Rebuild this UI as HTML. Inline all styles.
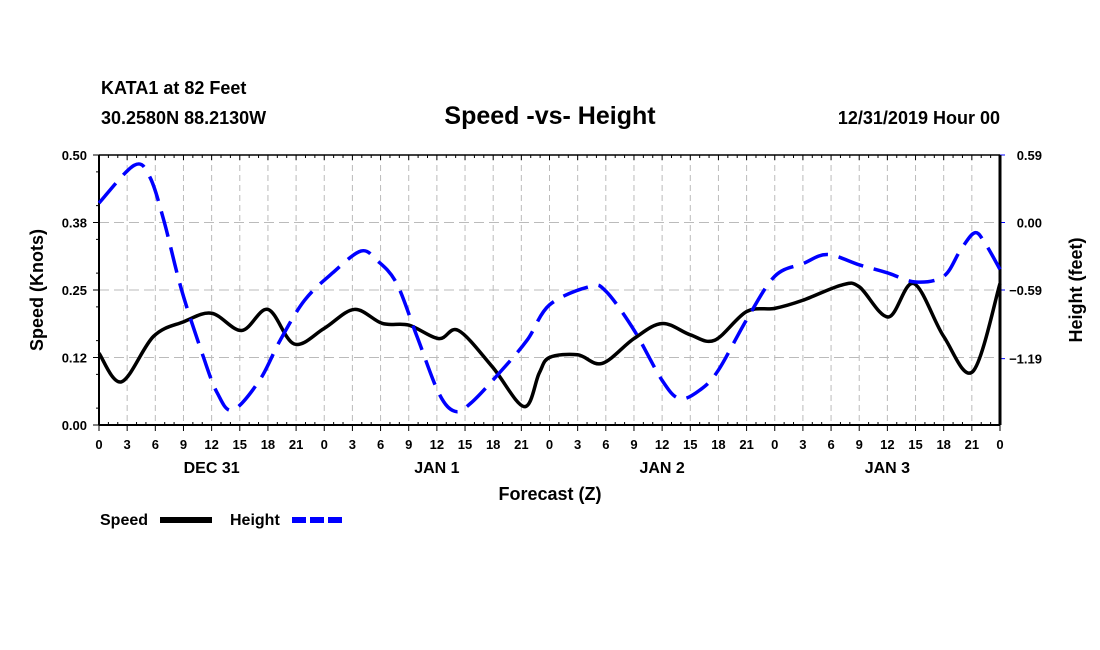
<!DOCTYPE html>
<html><head><meta charset="utf-8"><style>
body{margin:0;background:#fff;}
svg{display:block;font-family:"Liberation Sans",Arial,sans-serif;font-weight:bold;}
</style></head><body>
<svg id="c" width="1100" height="650">
<text x="101" y="94" font-size="18">KATA1 at 82 Feet</text>
<text x="101" y="124" font-size="18">30.2580N 88.2130W</text>
<text x="550" y="124" font-size="25" text-anchor="middle">Speed -vs- Height</text>
<text x="1000" y="124" font-size="18" text-anchor="end">12/31/2019 Hour 00</text>
<g id="grid"></g><g id="axes"></g><g id="series"></g>
<text x="550" y="500" font-size="18" text-anchor="middle">Forecast (Z)</text>
<text transform="translate(43,290) rotate(-90)" font-size="18" text-anchor="middle">Speed (Knots)</text>
<text transform="translate(1082,290) rotate(-90)" font-size="18" text-anchor="middle">Height (feet)</text>
<g>
<text x="100" y="525" font-size="16">Speed</text>
<line x1="160" y1="520" x2="212" y2="520" stroke="#000" stroke-width="6"/>
<text x="230" y="525" font-size="16">Height</text>
<line x1="292" y1="520" x2="342" y2="520" stroke="#00f" stroke-width="6" stroke-dasharray="14,4"/>
</g>
</svg>
<script>
const speedHours=[0,2.4,5.8,9,12,15.2,18,20.8,24,27.2,30.2,33,36.2,38.3,41.9,45.3,46.9,48,51,53.6,57,60,63,65.6,69,72,75,79.1,81,84.1,86.8,90,93.1,96];
const speedVals=[0.133,0.080,0.164,0.191,0.207,0.175,0.214,0.150,0.179,0.214,0.188,0.185,0.160,0.175,0.108,0.034,0.096,0.125,0.130,0.114,0.160,0.188,0.167,0.157,0.210,0.216,0.231,0.259,0.256,0.200,0.262,0.164,0.099,0.262];
const heightHours=[0,3.75,5.4,6.9,8.8,11.1,12.6,14.25,17.1,19.3,21.9,24.9,27.9,29.6,31.7,33.9,36.2,37.9,39.6,42.6,45.6,48,52.3,54,57,60,61.9,64.1,66,69,72,75,77.6,81,84,87,90,91.8,93.3,94.4,96];
const heightVals=[0.17,0.50,0.40,0.02,-0.59,-1.17,-1.49,-1.64,-1.38,-1.03,-0.68,-0.44,-0.25,-0.33,-0.53,-1.00,-1.49,-1.65,-1.58,-1.32,-1.03,-0.72,-0.56,-0.60,-0.94,-1.38,-1.54,-1.46,-1.29,-0.85,-0.47,-0.36,-0.28,-0.37,-0.44,-0.52,-0.47,-0.24,-0.09,-0.18,-0.41];
const leftTicks=["0.00","0.12","0.25","0.38","0.50"];
const rightTicks=["0.59","0.00","\u22120.59","\u22121.19"];
const rightTickVals=[0.59,0,-0.59,-1.19];
const dayLabels=["DEC 31","JAN 1","JAN 2","JAN 3"];

const L=99,R=1000,T=155,B=425,NS="http://www.w3.org/2000/svg";
const xs=h=>L+(R-L)*h/96;
const ysL=v=>B-(B-T)*v/0.5;
const ysR=v=>222.5-v*(67.5/0.59);
function mk(tag,at,par){const e=document.createElementNS(NS,tag);for(const k in at)e.setAttribute(k,at[k]);par.appendChild(e);return e;}
const grid=document.getElementById('grid'),axes=document.getElementById('axes'),ser=document.getElementById('series');
for(let h=3;h<96;h+=3){const g=mk('line',{x1:xs(h),x2:xs(h),y1:T,y2:B,stroke:'#bbb','stroke-dasharray':'6,4'},grid);

}
leftTicks.forEach((t,i)=>{const v=i*0.125,y=ysL(v);
if(i>0&&i<4){const g=mk('line',{x1:L,x2:R,y1:y,y2:y,stroke:'#bbb','stroke-dasharray':'10,5'},grid);

}
mk('line',{x1:L-6,x2:L,y1:y,y2:y,stroke:'#000'},axes);
const tx=mk('text',{x:L-12,y:y+5,'font-size':13,'text-anchor':'end'},axes);tx.textContent=t;

});
for(let i=0;i<8;i++){const y=ysL(i*0.0625+0.03125);mk('line',{x1:L-3,x2:L,y1:y,y2:y,stroke:'#000'},axes);}
rightTicks.forEach((t,i)=>{const y=ysR(rightTickVals[i]);mk('line',{x1:R,x2:R+5,y1:y,y2:y,stroke:'#00f'},axes);
const tx=mk('text',{x:1042,y:y+5,'font-size':13,'text-anchor':'end'},axes);tx.textContent=t;

});
for(let h=0;h<=96;h+=3){const x=xs(h);mk('line',{x1:x,x2:x,y1:B,y2:B+6,stroke:'#000'},axes);mk('line',{x1:x,x2:x,y1:T,y2:T+5,stroke:'#000'},axes);
const tx=mk('text',{x:x,y:449,'font-size':13,'text-anchor':'middle'},axes);tx.textContent=String(h%24);

}
for(let h=1;h<96;h++){if(h%3){const x=xs(h);mk('line',{x1:x,x2:x,y1:T,y2:T+3,stroke:'#000'},axes);mk('line',{x1:x,x2:x,y1:B-3,y2:B,stroke:'#000'},axes);}}
dayLabels.forEach((d,i)=>{const tx=mk('text',{x:xs(12+24*i),y:473,'font-size':16,'text-anchor':'middle'},axes);tx.textContent=d;

});
mk('line',{x1:L,x2:R,y1:T,y2:T,stroke:'#000','stroke-width':1.5},axes);
mk('line',{x1:L,x2:R,y1:B,y2:B,stroke:'#000','stroke-width':2},axes);
mk('line',{x1:L,x2:L,y1:T,y2:B,stroke:'#000','stroke-width':2},axes);
mk('line',{x1:R,x2:R,y1:T,y2:B,stroke:'#000','stroke-width':3},axes);
function path(pts){let d=`M${pts[0][0]},${pts[0][1]}`;for(let i=0;i<pts.length-1;i++){const p0=pts[Math.max(0,i-1)],p1=pts[i],p2=pts[i+1],p3=pts[Math.min(pts.length-1,i+2)];
d+=`C${p1[0]+(p2[0]-p0[0])/6},${p1[1]+(p2[1]-p0[1])/6} ${p2[0]-(p3[0]-p1[0])/6},${p2[1]-(p3[1]-p1[1])/6} ${p2[0]},${p2[1]}`;}return d;}
const sp=mk('path',{d:path(speedHours.map((h,i)=>[xs(h),ysL(speedVals[i])])),fill:'none',stroke:'#000','stroke-width':3.5},ser);


const hp=mk('path',{d:path(heightHours.map((h,i)=>[xs(h),ysR(heightVals[i])])),fill:'none',stroke:'#00f','stroke-width':3.5,'stroke-dasharray':'26,11'},ser);


</script>
</body></html>
